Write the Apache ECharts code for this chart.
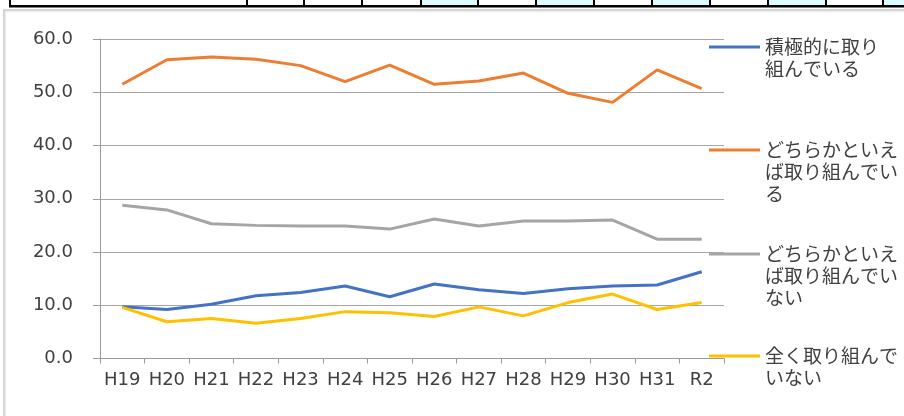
<!DOCTYPE html>
<html lang="ja">
<head>
    <meta charset="UTF-8">
    <title>取組状況の推移</title>
    <script src="https://cdn.jsdelivr.net/npm/echarts@6/dist/echarts.min.js"></script>
    <style>
        html, body { margin: 0; padding: 0; background: #fff; }
    </style>
</head>
<body>
<div id="main" style="width: 904px;height:416px;"></div>
<script type="text/javascript">
    // 年度
    var years = ['H19', 'H20', 'H21', 'H22', 'H23', 'H24', 'H25', 'H26', 'H27', 'H28', 'H29', 'H30', 'H31', 'R2'];
    // 各回答の割合(%)
    var active    = [9.7, 9.2, 10.2, 11.8, 12.4, 13.6, 11.6, 14.0, 12.9, 12.2, 13.1, 13.6, 13.8, 16.3];
    var ratherYes = [51.5, 56.1, 56.6, 56.2, 55.0, 52.0, 55.1, 51.5, 52.1, 53.6, 49.8, 48.1, 54.2, 50.7];
    var ratherNo  = [28.8, 27.9, 25.3, 25.0, 24.9, 24.9, 24.3, 26.2, 24.9, 25.8, 25.8, 26.0, 22.4, 22.4];
    var none      = [9.6, 6.9, 7.5, 6.6, 7.5, 8.8, 8.6, 7.9, 9.7, 8.0, 10.5, 12.1, 9.2, 10.5];
    var names = ['積極的に取り\n組んでいる', 'どちらかといえ\nば取り組んでい\nる', 'どちらかといえ\nば取り組んでい\nない', '全く取り組んで\nいない'];
    var colors = ['#4472c4', '#ed7d31', '#a5a5a5', '#ffc000'];
    var yTicks = [0, 10, 20, 30, 40, 50, 60];

    var lineH = 22;
    var legendY = [47, 150, 254, 356];  // 凡例の線の位置

    // 凡例: 線を1行目に揃えるため、先頭に空行を入れる
    var legends = names.map(function (n, i) {
        var lines = n.split('\n').length;
        var total = lines * 2 - 1;
        return {
            orient: 'vertical',
            left: 709,
            top: legendY[i] - total * lineH / 2,
            padding: 0,
            icon: 'rect',
            itemWidth: 51,
            itemHeight: 3,
            data: [n],
            selectedMode: false,
            formatter: function (name) {
                return new Array(lines).join('\n') + name;
            },
            textStyle: {
                fontFamily: 'Noto Sans CJK JP',
                fontSize: 19,
                lineHeight: lineH,
                color: '#404040'
            }
        };
    });

    // 上の表の枠
    var tableX = [10, 247, 304, 362, 421, 478, 536, 594, 652, 710, 768, 826, 883];
    var cyan = [[421, 478], [536, 594], [652, 710], [768, 826], [883, 904]];
    var deco = [];
    cyan.forEach(function (c) {
        deco.push({type: 'rect', shape: {x: c[0], y: 0, width: c[1] - c[0], height: 6}, style: {fill: '#dcfcff'}});
    });
    tableX.forEach(function (x) {
        deco.push({type: 'rect', shape: {x: x - 1, y: 0, width: 2, height: 7}, style: {fill: '#000'}});
    });
    deco.push({type: 'rect', shape: {x: 9, y: 5, width: 895, height: 2.5}, style: {fill: '#000'}});
    // グラフ枠
    deco.push({type: 'polyline', shape: {points: [[4, 416], [4, 10], [904, 10]]}, style: {stroke: '#c4c4c4', lineWidth: 1.5, fill: null}});
    deco.push({type: 'polyline', shape: {points: [[5.5, 416], [5.5, 11.5], [904, 11.5]]}, style: {stroke: '#ececec', lineWidth: 1.5, fill: null}});

    var myChart = echarts.init(document.getElementById('main'));
    myChart.setOption({
        animation: false,
        color: colors,
        legend: legends,
        graphic: deco,
        grid: {
            left: 100,
            right: 180,
            top: 39,
            bottom: 57.5
        },
        xAxis: {
            type: 'category',
            data: years,
            boundaryGap: true,
            axisLine: {lineStyle: {color: '#9a9a9a', width: 1}},
            axisTick: {show: true, length: 5, lineStyle: {color: '#9a9a9a'}},
            axisLabel: {
                interval: 0,
                margin: 13,
                color: '#404040',
                fontFamily: 'DejaVu Sans',
                fontSize: 18
            }
        },
        yAxis: {
            type: 'value',
            min: yTicks[0],
            max: yTicks[yTicks.length - 1],
            interval: 10,
            axisLine: {show: true, lineStyle: {color: '#9a9a9a', width: 1}},
            axisTick: {show: true, length: 7, lineStyle: {color: '#9a9a9a'}},
            splitLine: {lineStyle: {color: '#a6a6a6', width: 1}},
            axisLabel: {
                margin: 27,
                color: '#404040',
                fontFamily: 'DejaVu Sans',
                fontSize: 18,
                formatter: function (v) { return v.toFixed(1); }
            }
        },
        series: [active, ratherYes, ratherNo, none].map(function (d, i) {
            return {
                name: names[i],
                type: 'line',
                data: d,
                symbol: 'none',
                lineStyle: {width: 3, color: colors[i]}
            };
        })
    });
</script>
</body>
</html>
